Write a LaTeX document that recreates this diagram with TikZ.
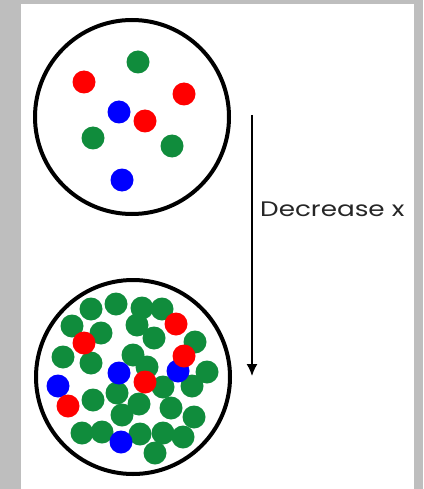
\documentclass[tikz,border=0pt]{standalone}
\usepackage{fontspec}
\usepackage{graphicx}
\newfontfamily\labelfont{Poppins}
\definecolor{dotgreen}{RGB}{16,140,60}
\definecolor{dotred}{RGB}{255,0,0}
\definecolor{dotblue}{RGB}{0,0,255}
\definecolor{slidegray}{RGB}{190,190,190}
\usetikzlibrary{arrows.meta}

\begin{document}
\begin{tikzpicture}[x=1pt,y=-1pt,>={Latex[length=12pt,width=11pt]},
    vessel/.style={line width=4pt},
    particle/.style={radius=11.5pt}]
          % slide background
          \fill[slidegray] (0,0) rectangle (423,489);
          \fill[white] (21,4) rectangle (414,489);
          % dilute vessel
          \draw[vessel] (132,117) circle[radius=97];
          \foreach \px/\py in {138/62, 93/138, 172/146}
            \fill[dotgreen,particle] (\px,\py) circle;
          \foreach \px/\py in {119/112, 122/180}
            \fill[dotblue,particle] (\px,\py) circle;
          \foreach \px/\py in {84/82, 184/94, 145/121}
            \fill[dotred,particle] (\px,\py) circle;
          % concentrated vessel
          \draw[vessel] (133,377) circle[radius=97];
          \foreach \px/\py in {91/309, 116/304, 142/308, 162/309, 72/326, 101/333,
              137/325, 154/338, 195/342, 63/357, 91/363, 133/355, 147/367, 207/372,
              163/387, 192/386, 93/400, 117/393, 139/404, 171/408, 194/417, 122/415,
              82/433, 102/432, 140/434, 163/433, 183/437, 155/453}
            \fill[dotgreen,particle] (\px,\py) circle;
          \foreach \px/\py in {119/373, 178/371, 58/386, 121/442}
            \fill[dotblue,particle] (\px,\py) circle;
          \foreach \px/\py in {176/324, 84/343, 184/356, 145/382, 68/406}
            \fill[dotred,particle] (\px,\py) circle;
          % arrow
          \coordinate (start) at (252,115);
          \coordinate (stop) at (252,376);
          \draw[->,line width=1.5pt] (start) -- (stop);
          \node[anchor=west,inner sep=0pt,font=\labelfont\fontsize{21}{25}\selectfont,text=black!85]
            (label) at (260,209) {\scalebox{1.25}[1]{Decrease x}};
\end{tikzpicture}
\end{document}
